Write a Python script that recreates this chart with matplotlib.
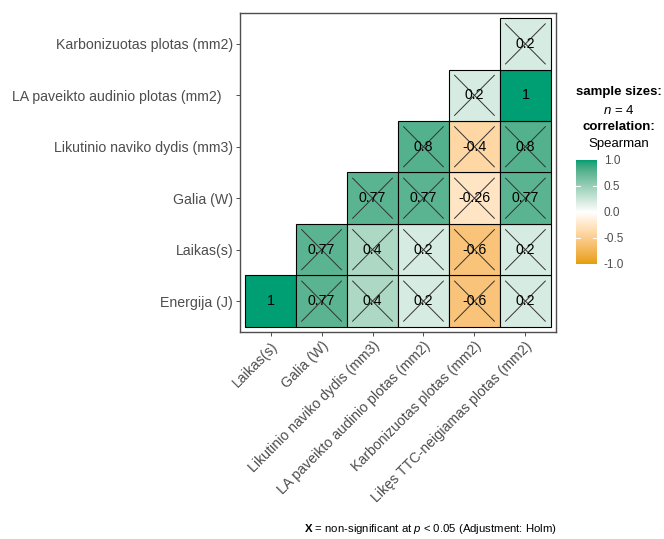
import numpy as np
import matplotlib
matplotlib.use("Agg")
import matplotlib.pyplot as plt
from matplotlib.colors import ListedColormap
from matplotlib.patches import Rectangle

plt.rcParams['font.family'] = ['Liberation Sans', 'DejaVu Sans']
plt.rcParams['mathtext.fontset'] = 'custom'
plt.rcParams['mathtext.rm'] = 'Liberation Sans'
plt.rcParams['mathtext.it'] = 'Liberation Sans:italic'
plt.rcParams['mathtext.bf'] = 'Liberation Sans:bold'

# eilutes (is apacios i virsu) ir stulpeliai
row_labels = ["Energija (J)", "Laikas(s)", "Galia (W)", "Likutinio naviko dydis (mm3)",
              "LA paveikto audinio plotas (mm2)   ", "Karbonizuotas plotas (mm2)"]
col_labels = ["Laikas(s)", "Galia (W)", "Likutinio naviko dydis (mm3)",
              "LA paveikto audinio plotas (mm2)", "Karbonizuotas plotas (mm2)",
              "Likęs TTC-neigiamas plotas (mm2)"]

# koreliacijos (None = tuscia)
r_energija = [1, 0.77, 0.4, 0.2, -0.6, 0.2]
r_laikas = [None, 0.77, 0.4, 0.2, -0.6, 0.2]
r_galia = [None, None, 0.77, 0.77, -0.26, 0.77]
r_likutinio = [None, None, None, 0.8, -0.4, 0.8]
r_la = [None, None, None, None, 0.2, 1]
r_karbon = [None, None, None, None, None, 0.2]
rows = [r_energija, r_laikas, r_galia, r_likutinio, r_la, r_karbon]

cb_ticks = [-1.0, -0.5, 0.0, 0.5, 1.0]


# spalvu skale kaip ggplot (interpoliacija Lab erdveje)
def srgb_to_lab(c):
    c = np.asarray(c, float)
    lin = np.where(c <= 0.04045, c / 12.92, ((c + 0.055) / 1.055) ** 2.4)
    M = np.array([[0.4124, 0.3576, 0.1805], [0.2126, 0.7152, 0.0722], [0.0193, 0.1192, 0.9505]])
    xyz = M @ lin / np.array([0.95047, 1.0, 1.08883])
    f = np.where(xyz > 0.008856, np.cbrt(xyz), 7.787 * xyz + 16 / 116)
    return np.array([116 * f[1] - 16, 500 * (f[0] - f[1]), 200 * (f[1] - f[2])])


def lab_to_srgb(lab):
    L, a, b = lab
    fy = (L + 16) / 116
    fx = fy + a / 500
    fz = fy - b / 200
    f = np.array([fx, fy, fz])
    xyz = np.where(f ** 3 > 0.008856, f ** 3, (f - 16 / 116) / 7.787) * np.array([0.95047, 1.0, 1.08883])
    Minv = np.array([[3.2406, -1.5372, -0.4986], [-0.9689, 1.8758, 0.0415], [0.0557, -0.2040, 1.0570]])
    lin = Minv @ xyz
    c = np.where(lin <= 0.0031308, 12.92 * lin, 1.055 * np.clip(lin, 0, None) ** (1 / 2.4) - 0.055)
    return np.clip(c, 0, 1)


low = srgb_to_lab(np.array([0xE6, 0x9F, 0x00]) / 255)
mid = srgb_to_lab(np.array([1.0, 1.0, 1.0]))
high = srgb_to_lab(np.array([0x00, 0x9E, 0x73]) / 255)
cols = []
for t in np.linspace(-1, 1, 256):
    if t < 0:
        lab = mid + (low - mid) * (-t)
    else:
        lab = mid + (high - mid) * t
    cols.append(lab_to_srgb(lab))
cmap = ListedColormap(cols)

txt_col = "#4D4D4D"

fig = plt.figure(figsize=(6.64, 5.39), dpi=100)
W, H = 664, 539
ax = fig.add_axes([240 / W, 1 - 332 / H, 316 / W, 319 / H])

for i, row in enumerate(rows):
    for j, v in enumerate(row):
        if v is None:
            continue
        x, y = j + 1, i + 1
        ax.add_patch(Rectangle((x - 0.5, y - 0.5), 1, 1, facecolor=cmap((v + 1) / 2),
                               edgecolor="black", lw=0.8, zorder=2))
        if v != 1:
            d = 0.39
            ax.plot([x - d, x + d], [y - d, y + d], color="#333333", lw=0.7, zorder=3)
            ax.plot([x - d, x + d], [y + d, y - d], color="#333333", lw=0.7, zorder=3)
        ax.text(x, y, "%g" % v, ha="center", va="center", fontsize=10.2,
                color="black", zorder=4)

ax.set_xlim(0.4, 6.6)
ax.set_ylim(0.4, 6.6)
ax.set_xticks(range(1, 7))
ax.set_yticks(range(1, 7))
ax.set_yticklabels(row_labels, fontsize=10.2, color=txt_col)
ax.set_xticklabels(col_labels, fontsize=10.2, color=txt_col, rotation=45,
                   ha="right", va="top", rotation_mode="anchor")
ax.tick_params(length=3, color="#333333", width=0.6, pad=2)
for s in ax.spines.values():
    s.set_color("#4D4D4D")
    s.set_linewidth(1)

# legenda
cax = fig.add_axes([576 / W, 1 - 264 / H, 21 / W, 104 / H])
grad = np.linspace(-1, 1, 200).reshape(-1, 1)
cax.imshow(grad, cmap=cmap, aspect="auto", origin="lower", extent=[0, 1, -1, 1],
           vmin=-1, vmax=1)
cax.set_xticks([])
cax.set_yticks(cb_ticks)
cax.yaxis.tick_right()
cax.set_yticklabels(["%.1f" % t for t in cb_ticks], fontsize=8.5, color=txt_col)
cax.tick_params(axis="y", length=0, pad=5)
for t in cb_ticks[1:-1]:
    cax.plot([0, 0.2], [t, t], color="white", lw=0.8)
    cax.plot([0.8, 1], [t, t], color="white", lw=0.8)
cax.set_xlim(0, 1)
cax.set_ylim(-1, 1)
for s in cax.spines.values():
    s.set_visible(False)

fig.text(619 / W, 1 - 92 / H, "sample sizes:", ha="center", va="center",
         fontsize=9.5, fontweight="bold")
fig.text(619 / W, 1 - 110 / H, "$n$ = 4", ha="center", va="center", fontsize=9.5)
fig.text(619 / W, 1 - 127 / H, "correlation:", ha="center", va="center",
         fontsize=9.5, fontweight="bold")
fig.text(619 / W, 1 - 144 / H, "Spearman", ha="center", va="center", fontsize=9.5)

fig.text(557 / W, 1 - 529 / H,
         r"$\mathbf{X}$ = non-significant at $p$ < 0.05 (Adjustment: Holm)",
         ha="right", va="center", fontsize=8.2)

fig.savefig("out.png", dpi=100)
